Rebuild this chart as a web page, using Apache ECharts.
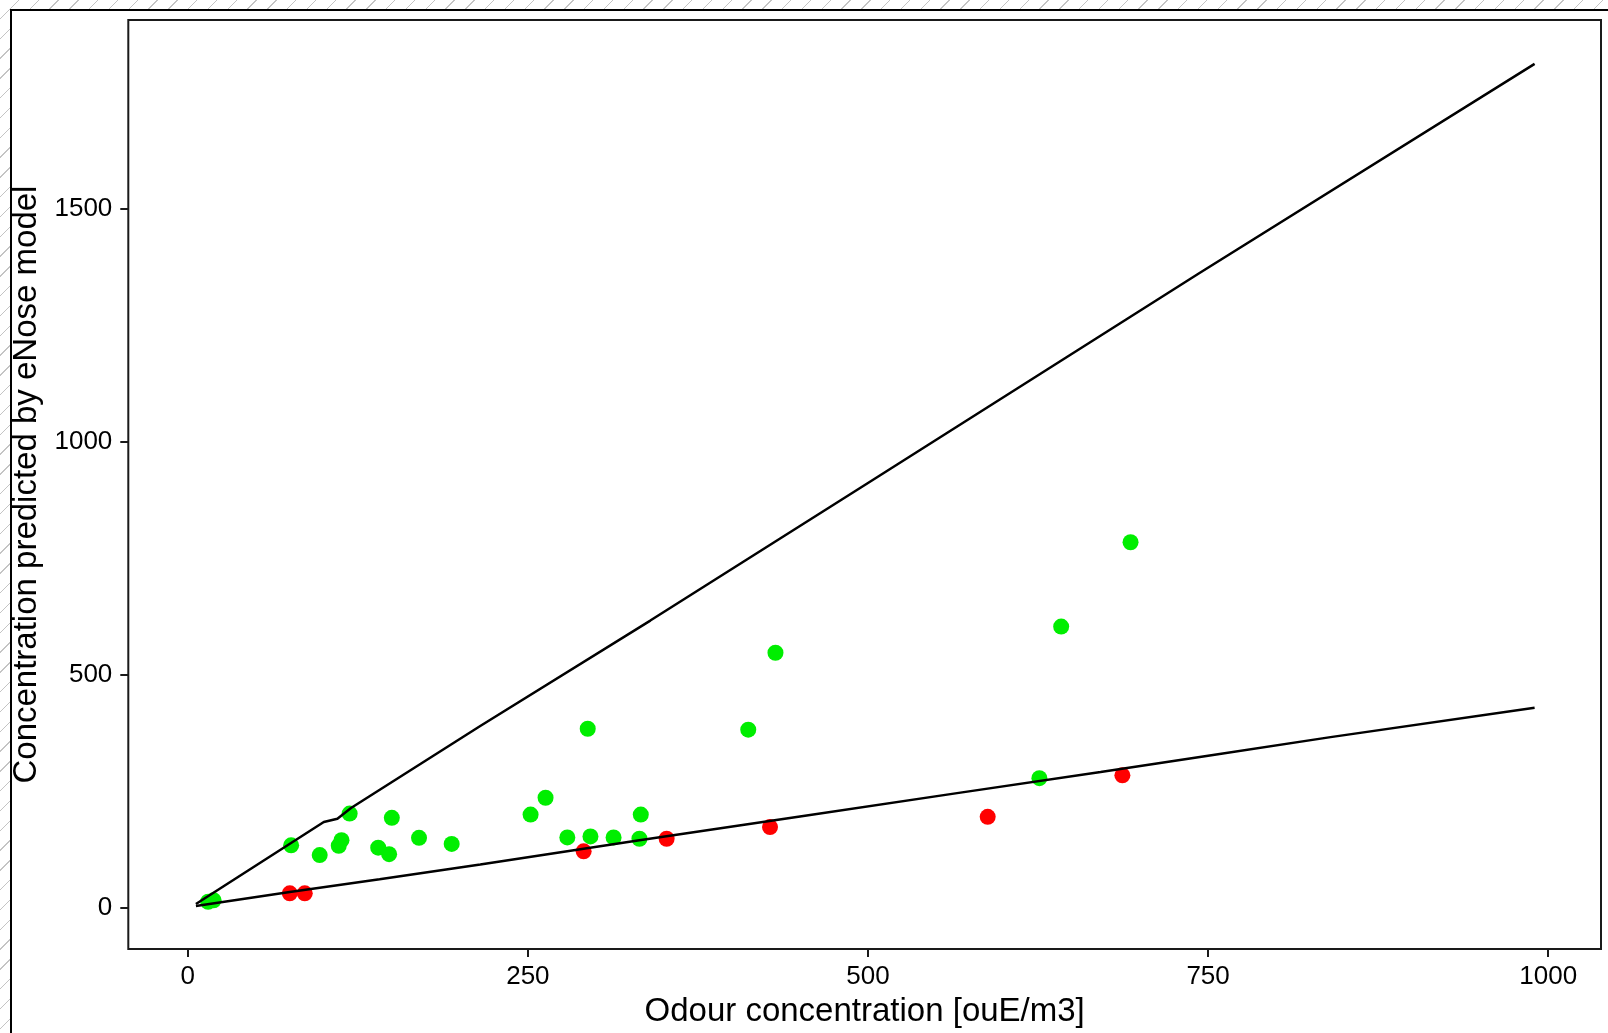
<!DOCTYPE html>
<html>

<head>
    <meta charset="UTF-8">
    <script src="https://cdn.jsdelivr.net/npm/echarts@6/dist/echarts.min.js"></script>
    <style>
        body { margin: 0; width: 1608px; height: 1033px; overflow: hidden;
               background: repeating-linear-gradient(135deg, #ffffff 0 13px, #c4c4c4 13px 14px); }
        #frame { position: absolute; left: 10px; top: 9px; width: 1620px; height: 1060px;
                 border: 2px solid #000; background: #fff; }
        #main { position: absolute; left: 0; top: 0; width: 1608px; height: 1033px; }
    </style>
</head>

<body>
    <div id="frame"></div>
    <div id="main"></div>
    <script type="text/javascript">
        // measured odour (x) vs eNose prediction (y), green = inside band
        var goodOdour = [15, 19, 76, 97, 111, 113, 119, 140, 148, 150, 170, 194, 252, 263, 279, 294, 296, 313, 332, 333, 412, 432, 626, 642, 693];
        var goodPred  = [13, 16, 134, 113, 133, 145, 202, 129, 115, 193, 150, 137, 200, 236, 151, 384, 153, 151, 148, 200, 382, 547, 278, 603, 784];
        // red = below lower limit
        var badOdour = [75, 86, 291, 352, 428, 588, 687];
        var badPred  = [31, 31, 121, 148, 173, 195, 284];
        // limit curves
        var upperX = [6, 100, 110, 120, 215, 340, 500, 744, 990];
        var upperY = [8, 184, 191, 214, 390, 616, 911, 1362, 1810];
        var lowerX = [6, 75, 141, 215, 332, 450, 568, 671, 750, 840, 990];
        var lowerY = [4, 34, 61, 93, 145, 196, 247, 291, 326, 366, 429];
        var xTicks = [0, 250, 500, 750, 1000];
        var yTicks = [0, 500, 1000, 1500];

        function pairs(xs, ys) {
            var out = [];
            for (var i = 0; i < xs.length; i++) out.push([xs[i], ys[i]]);
            return out;
        }

        var font = 'Liberation Sans, Arial, sans-serif';
        var myChart = echarts.init(document.getElementById('main'));

        var option = {
            animation: false,
            backgroundColor: 'transparent',
            grid: {
                left: 128.3, top: 20, right: 7, bottom: 82.3,
                show: true, borderColor: '#1a1a1a', borderWidth: 2, backgroundColor: 'transparent'
            },
            xAxis: {
                type: 'value', min: -43.7, max: 1038.8,
                name: 'Odour concentration [ouE/m3]',
                nameLocation: 'middle', nameGap: 44,
                nameTextStyle: { fontSize: 33, color: '#000', fontFamily: font },
                axisLine: { show: false, onZero: false },
                axisTick: { show: true, length: 8, customValues: xTicks, lineStyle: { color: '#1a1a1a', width: 2 } },
                axisLabel: {
                    customValues: xTicks, fontSize: 26, color: '#000', fontFamily: font, margin: 15,
                    formatter: function (v) { return String(v); }
                },
                splitLine: { show: false }
            },
            yAxis: {
                type: 'value', min: -88.6, max: 1904,
                name: 'Concentration predicted by eNose model',
                nameLocation: 'middle', nameGap: 80, nameRotate: 90,
                nameTextStyle: { fontSize: 33, color: '#000', fontFamily: font },
                axisLine: { show: false, onZero: false },
                axisTick: { show: true, length: 8, customValues: yTicks, lineStyle: { color: '#1a1a1a', width: 2 } },
                axisLabel: {
                    customValues: yTicks, fontSize: 26, color: '#000', fontFamily: font, margin: 16,
                    formatter: function (v) { return String(v); }
                },
                splitLine: { show: false }
            },
            series: [
                {
                    type: 'scatter', data: pairs(goodOdour, goodPred),
                    symbolSize: 16, itemStyle: { color: '#00ee00', opacity: 1 }, z: 2
                },
                {
                    type: 'scatter', data: pairs(badOdour, badPred),
                    symbolSize: 16, itemStyle: { color: '#ff0000', opacity: 1 }, z: 2
                },
                {
                    type: 'line', data: pairs(upperX, upperY), symbol: 'none',
                    lineStyle: { color: '#000', width: 2.5 }, z: 5
                },
                {
                    type: 'line', data: pairs(lowerX, lowerY), symbol: 'none',
                    lineStyle: { color: '#000', width: 2.5 }, z: 5
                }
            ]
        };

        myChart.setOption(option);
    </script>
</body>

</html>
